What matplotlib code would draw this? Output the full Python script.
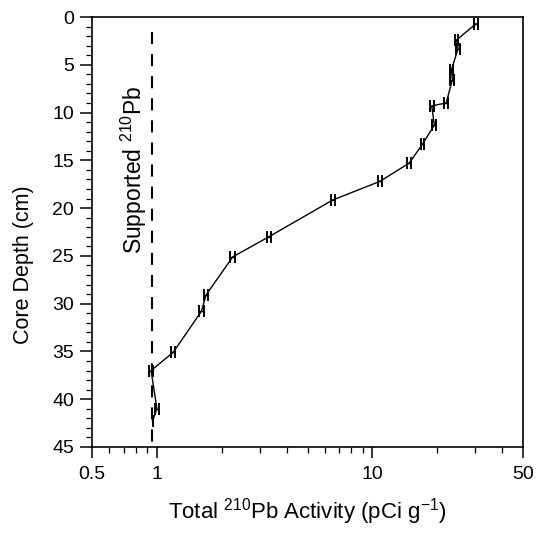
import matplotlib
matplotlib.use('Agg')
import matplotlib.pyplot as plt
from matplotlib.ticker import FixedLocator, NullFormatter, MultipleLocator
import numpy as np

plt.rcParams['font.family'] = ['Liberation Sans', 'DejaVu Sans']
plt.rcParams['mathtext.default'] = 'regular'

# depth (cm) and total 210Pb activity (pCi/g)
depth = [0.7, 2.4, 3.3, 5.5, 6.6, 9.0, 9.3, 11.3, 13.3, 15.3, 17.2, 19.15,
         23.0, 25.1, 29.1, 30.8, 35.1, 37.0, 41.0, 42.3]
activity = [30.3, 24.6, 25.0, 23.3, 23.5, 22.0, 18.85, 19.4, 17.1, 14.8, 10.85, 6.55,
            3.31, 2.25, 1.69, 1.61, 1.19, 0.94, 1.0, 0.955]
rel_err = [0.02, 0.02, 0.02, 0.02, 0.02, 0.02, 0.02, 0.02, 0.02, 0.02, 0.02, 0.02,
           0.02, 0.025, 0.025, 0.025, 0.025, 0.025, 0.025, 0.0]
supported = 0.95

x_major = [0.5, 1, 10, 50]
x_minor = [0.6, 0.7, 0.8, 0.9, 2, 3, 4, 5, 6, 7, 8, 9, 20, 30, 40]

fig = plt.figure(figsize=(5.4, 5.33), dpi=100)
ax = fig.add_axes([0.1704, 0.1614, 0.7981, 0.8067])

xerr = np.array(activity) * np.array(rel_err)
ax.errorbar(activity, depth, xerr=xerr, color='black', lw=1.0,
            elinewidth=1.0, capsize=4.3, capthick=1.4)

ax.vlines(supported, 1.6, 45, colors='black', linestyles=(0, (5.8, 4.8)), lw=1.5)
ax.text(0.78, 16.0, 'Supported $^{210}$Pb', rotation=90, ha='center', va='center',
        fontsize=16.5)

ax.set_xscale('log')
ax.set_xlim(0.5, 50)
ax.set_ylim(45, 0)
ax.xaxis.set_major_locator(FixedLocator(x_major))
ax.xaxis.set_minor_locator(FixedLocator(x_minor))
ax.xaxis.set_minor_formatter(NullFormatter())
ax.set_xticklabels([str(v) for v in x_major])
ax.yaxis.set_major_locator(MultipleLocator(5))
ax.yaxis.set_minor_locator(MultipleLocator(1))

ax.tick_params(which='major', direction='out', length=9, width=1.1, labelsize=14, pad=4)
ax.tick_params(which='minor', direction='out', length=4, width=0.9)
ax.tick_params(axis='x', which='major', length=8, pad=6)
for s in ax.spines.values():
    s.set_linewidth(1.2)

ax.set_ylabel('Core Depth (cm)', fontsize=15.5, va='center')
ax.yaxis.set_label_coords(-0.16, 0.425)
ax.set_xlabel('Total $^{210}$Pb Activity (pCi g$^{-1}$)', fontsize=16, labelpad=9)

fig.savefig('out.png', dpi=100)
